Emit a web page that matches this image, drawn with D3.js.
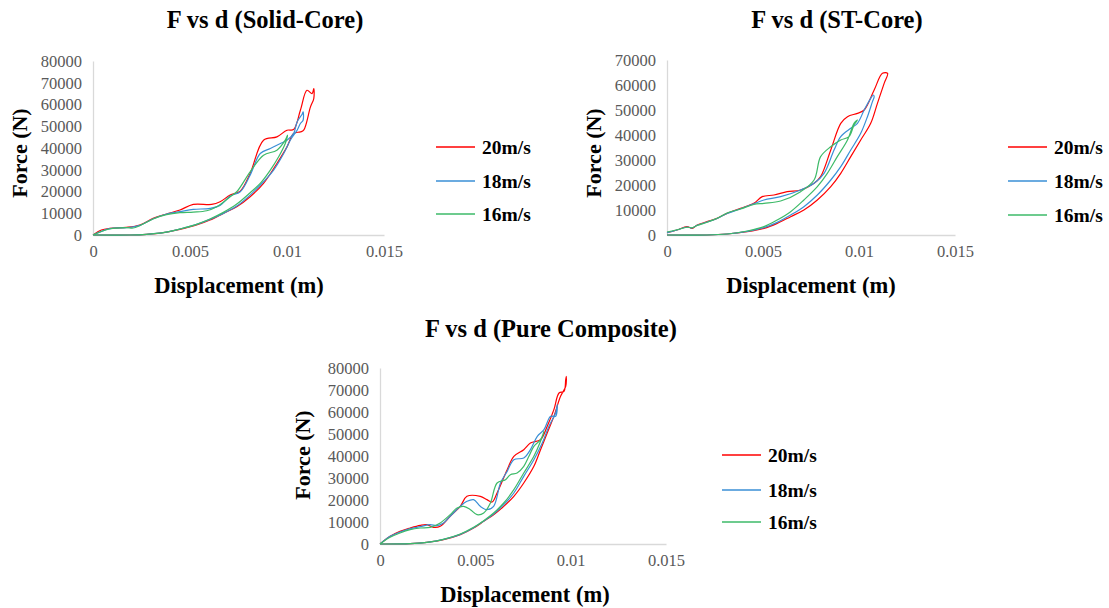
<!DOCTYPE html>
<html>
<head>
<meta charset="utf-8">
<script src="https://cdn.jsdelivr.net/npm/d3@7"></script>
<style>
  body { margin: 0; background: #fff; }
  svg { display: block; }
  text { font-family: "Liberation Serif", "Times New Roman", serif; }
</style>
</head>
<body>
<svg id="chart" width="1109" height="608"></svg>
<script>
// ---------- DATA ----------
const seriesNames = ["20m/s", "18m/s", "16m/s"];
const seriesColors = ["#ff0000", "#3a8fd6", "#3dba68"];
const xTicks = [0, 0.005, 0.01, 0.015];
const yTicks80 = [0, 10000, 20000, 30000, 40000, 50000, 60000, 70000, 80000];
const yTicks70 = [0, 10000, 20000, 30000, 40000, 50000, 60000, 70000];
const panelTitles = ["F vs d (Solid-Core)", "F vs d (ST-Core)", "F vs d (Pure Composite)"];
const xAxisTitle = "Displacement (m)";
const yAxisTitle = "Force (N)";

// Solid-Core: [displacement (m), force (N)] loading then unloading
const solid20 = [[0,0],[0.00043,2294],[0.00086,3059],[0.00172,3518],[0.00241,4589],[0.0031,7648],[0.00379,9637],[0.00448,11472],[0.00517,14073],[0.00612,14073],[0.00655,15296],[0.00707,18356],[0.00759,20191],[0.0081,28298],[0.00879,43595],[0.00948,45124],[0.01,48184],[0.01034,48489],[0.01069,57361],[0.01103,66539],[0.01129,65010],[0.01138,67304],[0.01138,62715],[0.01121,58891],[0.01086,48184],[0.01069,47419],[0.01034,46654],[0.01,40535],[0.00948,32887],[0.00879,23709],[0.0081,17591],[0.00741,13002],[0.00672,9943],[0.00603,6883],[0.00534,4589],[0.00448,2600],[0.00362,1071],[0.00276,306],[0.0019,0],[0,0]];
const solid18 = [[0,0],[0.00086,2906],[0.00172,3365],[0.00241,4436],[0.0031,7495],[0.00379,9637],[0.00448,10707],[0.00517,11778],[0.00603,12237],[0.00655,13614],[0.00707,17897],[0.00759,19885],[0.0081,27533],[0.00862,37476],[0.00914,39771],[0.00966,42065],[0.01,43595],[0.01034,46654],[0.01052,52008],[0.01078,55526],[0.01083,56597],[0.01083,52773],[0.01069,51243],[0.01052,48184],[0.01017,43595],[0.00983,37476],[0.00931,29828],[0.00879,24474],[0.0081,18356],[0.00741,13308],[0.00672,9943],[0.00603,7189],[0.00534,4895],[0.00448,2753],[0.00362,1071],[0.00276,306],[0.0019,0],[0,0]];
const solid16 = [[0,0],[0.00086,2753],[0.00172,3365],[0.00207,3212],[0.00241,4283],[0.0031,7342],[0.00379,9331],[0.00448,10249],[0.00517,10554],[0.00586,11166],[0.00638,13002],[0.00707,17591],[0.00741,19885],[0.0081,29063],[0.00879,36711],[0.00948,39006],[0.00991,43595],[0.01003,45889],[0.00991,42065],[0.00957,35946],[0.00914,29828],[0.00862,23709],[0.0081,19426],[0.00741,14225],[0.00672,10402],[0.00603,7342],[0.00534,4895],[0.00448,2753],[0.00362,1071],[0.00276,306],[0.0019,0],[0,0]];

// ST-Core
const st20 = [[0,933],[0.00052,2000],[0.00104,3333],[0.00131,2667],[0.00157,4000],[0.00209,5333],[0.00261,6667],[0.00313,8667],[0.00383,10667],[0.00452,12667],[0.00496,15333],[0.00557,16000],[0.00626,17333],[0.00696,18000],[0.00766,20667],[0.008,23333],[0.00853,34000],[0.00905,44667],[0.0094,47333],[0.00992,48667],[0.01027,50000],[0.01079,58000],[0.01122,64667],[0.01149,64667],[0.01131,60667],[0.01096,52667],[0.01061,44667],[0.01009,38000],[0.00957,31333],[0.00905,24667],[0.00853,19333],[0.00783,14000],[0.00713,10000],[0.00644,7333],[0.00574,4667],[0.00505,2667],[0.00418,1333],[0.00313,400],[0.00209,0],[0,0]];
const st18 = [[0,933],[0.00052,2000],[0.00104,3200],[0.00131,2800],[0.00157,3900],[0.00209,5200],[0.00261,6600],[0.00313,8600],[0.00383,10500],[0.00452,12500],[0.00505,14000],[0.00592,15333],[0.00696,18000],[0.00766,20667],[0.00818,24667],[0.0087,34000],[0.00905,39333],[0.00957,42667],[0.00992,44667],[0.01027,50000],[0.01061,54667],[0.01075,56000],[0.01079,55333],[0.0107,53333],[0.01044,47333],[0.01009,40667],[0.00957,34000],[0.00905,27333],[0.00853,22000],[0.00783,16000],[0.00713,11333],[0.00644,8000],[0.00574,5067],[0.00505,2933],[0.00418,1467],[0.00313,400],[0.00209,0],[0,0]];
const st16 = [[0,1200],[0.00052,2100],[0.00104,3100],[0.00131,2900],[0.00157,3800],[0.00209,5100],[0.00261,6700],[0.00313,8800],[0.00383,10400],[0.00452,12200],[0.00505,12667],[0.00592,13600],[0.00696,17333],[0.00766,22000],[0.008,31333],[0.00853,35333],[0.00905,38000],[0.00948,39333],[0.00974,44000],[0.00992,46000],[0.00974,44667],[0.0094,38000],[0.00887,31333],[0.00835,24667],[0.00783,19333],[0.00713,14000],[0.00644,9333],[0.00574,6000],[0.00505,3333],[0.00418,1600],[0.00313,400],[0.00209,0],[0,0]];

// Pure Composite
const pure20 = [[0,0],[0.00053,3485],[0.00105,5758],[0.00158,7273],[0.00211,8485],[0.00246,8788],[0.00281,7576],[0.00316,8030],[0.00368,12576],[0.00421,17121],[0.00456,21667],[0.00526,21667],[0.00561,20152],[0.00588,19091],[0.00614,23182],[0.00667,33788],[0.00702,39848],[0.00754,42879],[0.00789,45909],[0.00842,47424],[0.00877,53485],[0.00912,61061],[0.00939,68636],[0.00965,69394],[0.00974,74697],[0.00977,76212],[0.00974,71667],[0.00947,67121],[0.00912,58030],[0.00877,50455],[0.00842,42879],[0.00807,35303],[0.00754,27727],[0.00702,21667],[0.00649,17121],[0.00596,13333],[0.00544,10303],[0.00491,7273],[0.00421,4242],[0.00333,1970],[0.00246,758],[0.00158,152],[0,0]];
const pure18 = [[0,0],[0.00053,3485],[0.00105,5455],[0.00158,6970],[0.00211,7879],[0.00263,8788],[0.00298,8333],[0.00333,9545],[0.00368,12576],[0.00421,17121],[0.00456,19394],[0.00491,20152],[0.00526,17121],[0.00561,15606],[0.00596,17121],[0.00632,27727],[0.00667,33030],[0.00702,38333],[0.00754,39091],[0.00789,42879],[0.00825,48939],[0.0086,51970],[0.00895,58030],[0.00921,58030],[0.0093,63333],[0.00921,59545],[0.00886,53485],[0.00851,45909],[0.00807,38333],[0.00754,30758],[0.00702,23182],[0.00649,17879],[0.00596,13636],[0.00544,10455],[0.00491,7424],[0.00421,4394],[0.00333,2121],[0.00246,758],[0.00158,152],[0,0]];
const pure16 = [[0,0],[0.00053,3030],[0.00105,5000],[0.00158,6515],[0.00211,7273],[0.00263,7576],[0.00316,9545],[0.00368,13333],[0.00404,16364],[0.00439,17121],[0.00474,15606],[0.00509,13333],[0.00544,14091],[0.00579,18636],[0.00614,27727],[0.00658,29242],[0.00684,31515],[0.00719,32273],[0.00754,35303],[0.00781,39848],[0.00807,44394],[0.00842,47424],[0.0086,51212],[0.00842,46667],[0.00807,39848],[0.00754,32273],[0.00702,24697],[0.00649,18636],[0.00596,14091],[0.00544,10606],[0.00491,7576],[0.00421,4545],[0.00333,2121],[0.00246,758],[0.00158,152],[0,0]];

// ---------- LAYOUT ----------
const panels = [
  { title: panelTitles[0], series: [solid20, solid18, solid16], yMax: 80000, yTicks: yTicks80,
    x0: 93, x1: 384, yTop: 61, yBot: 235,
    titleX: 265, titleY: 28, xtX: 239, xtY: 293, ytX: 27, ytY: 153,
    legX: 436, legY: [147, 181, 214] },
  { title: panelTitles[1], series: [st20, st18, st16], yMax: 70000, yTicks: yTicks70,
    x0: 667, x1: 955, yTop: 60, yBot: 235,
    titleX: 837, titleY: 28, xtX: 811, xtY: 293, ytX: 601, ytY: 153,
    legX: 1008, legY: [147, 181, 215] },
  { title: panelTitles[2], series: [pure20, pure18, pure16], yMax: 80000, yTicks: yTicks80,
    x0: 380, x1: 666, yTop: 368, yBot: 544,
    titleX: 551, titleY: 337, xtX: 525, xtY: 602, ytX: 310, ytY: 455,
    legX: 722, legY: [455, 490, 522] }
];

const svg = d3.select("#chart");

panels.forEach(p => {
  const g = svg.append("g");
  const x = d3.scaleLinear().domain([0, 0.015]).range([p.x0, p.x1]);
  const y = d3.scaleLinear().domain([0, p.yMax]).range([p.yBot, p.yTop]);

  // x axis
  const xa = g.append("g").attr("transform", `translate(0,${p.yBot})`)
    .call(d3.axisBottom(x).tickValues(xTicks).tickSize(0).tickPadding(10).tickFormat(d => String(d)));
  xa.select(".domain").attr("stroke", "#d9d9d9").attr("stroke-width", 1.3);
  xa.selectAll("text").attr("fill", "#595959").style("font-size", "16.5px")
    .style("font-family", '"Liberation Serif", serif');

  // y axis
  const ya = g.append("g").attr("transform", `translate(${p.x0},0)`)
    .call(d3.axisLeft(y).tickValues(p.yTicks).tickSize(0).tickPadding(11).tickFormat(d => String(d)));
  ya.select(".domain").attr("stroke", "#d9d9d9").attr("stroke-width", 1.3);
  ya.selectAll("text").attr("fill", "#595959").style("font-size", "16.5px")
    .style("font-family", '"Liberation Serif", serif');

  // lines
  const line = d3.line().x(d => x(d[0])).y(d => y(d[1])).curve(d3.curveCatmullRom.alpha(0.5));
  p.series.forEach((s, i) => {
    g.append("path").datum(s).attr("d", line)
      .attr("fill", "none").attr("stroke", seriesColors[i]).attr("stroke-width", 1.2)
      .attr("stroke-linejoin", "round");
  });

  // title
  g.append("text").attr("x", p.titleX).attr("y", p.titleY).attr("text-anchor", "middle")
    .style("font-size", "24.5px").style("font-weight", "bold").attr("fill", "#000").text(p.title);
  // x axis title
  g.append("text").attr("x", p.xtX).attr("y", p.xtY).attr("text-anchor", "middle")
    .style("font-size", "22.5px").style("font-weight", "bold").attr("fill", "#000").text(xAxisTitle);
  // y axis title
  g.append("text").attr("transform", `translate(${p.ytX},${p.ytY}) rotate(-90)`).attr("text-anchor", "middle")
    .style("font-size", "22px").style("font-weight", "bold").attr("fill", "#000").text(yAxisTitle);

  // legend
  seriesNames.forEach((n, i) => {
    g.append("line").attr("x1", p.legX).attr("x2", p.legX + 39)
      .attr("y1", p.legY[i]).attr("y2", p.legY[i])
      .attr("stroke", seriesColors[i]).attr("stroke-width", 1.6);
    g.append("text").attr("x", p.legX + 46).attr("y", p.legY[i] + 7)
      .style("font-size", "19.5px").style("font-weight", "bold").attr("fill", "#000").text(n);
  });
});
</script>
</body>
</html>
